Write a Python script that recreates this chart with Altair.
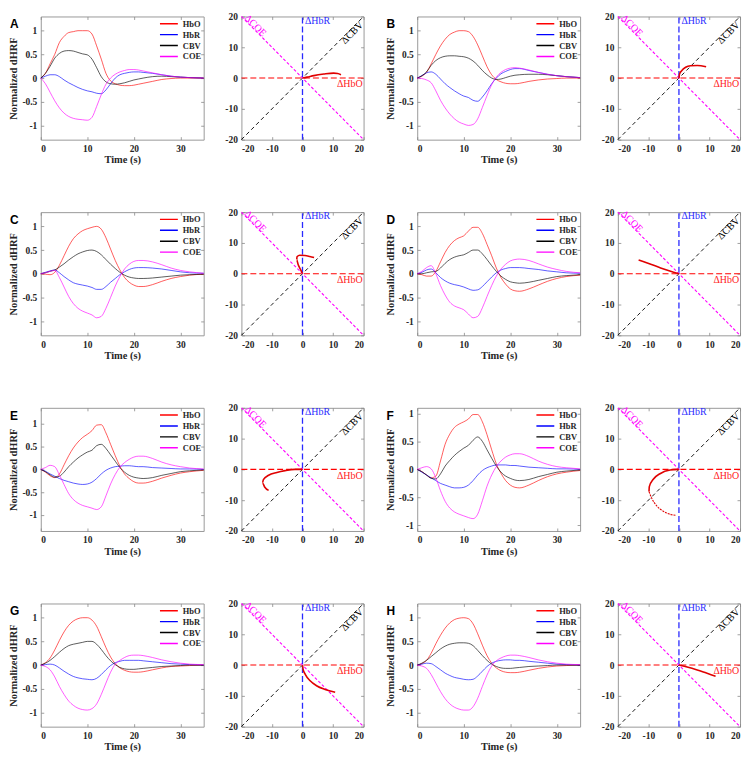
import altair as alt
import pandas as pd

SERIF = "Liberation Serif"
SANS = "Liberation Sans"
TXT = "#262626"

SERIES = ["HbO", "HbR", "CBV", "COE"]
SERIES_COLORS = ["#ff0000", "#0000ff", "#000000", "#ff00ff"]

T = [0, 1, 2, 3, 4, 5, 6, 7, 8, 9, 10, 11, 12, 13, 14, 15, 16, 17, 18, 19, 20, 21, 22, 24, 26, 28, 30, 32, 35]

# ---------------- Panel A ----------------
A_HBO = [0, 0.1, 0.3, 0.5, 0.75, 0.88, 0.96, 0.98, 1.0, 1.0, 1.0, 0.93, 0.68, 0.4, 0.1, -0.06, -0.12, -0.15, -0.16, -0.16, -0.15, -0.13, -0.11, -0.07, -0.03, -0.01, 0, 0, 0]
A_HBR = [0, 0.04, 0.07, 0.07, 0.03, -0.04, -0.1, -0.15, -0.2, -0.24, -0.27, -0.29, -0.32, -0.33, -0.25, -0.12, 0.0, 0.07, 0.1, 0.12, 0.13, 0.13, 0.12, 0.1, 0.07, 0.04, 0.02, 0.01, 0]
A_CBV = [0, 0.1, 0.25, 0.42, 0.52, 0.57, 0.58, 0.57, 0.54, 0.51, 0.49, 0.4, 0.22, 0.03, -0.08, -0.12, -0.13, -0.12, -0.1, -0.07, -0.04, -0.02, 0.0, 0.03, 0.04, 0.03, 0.02, 0.01, 0]
A_COE = [0, -0.12, -0.3, -0.48, -0.63, -0.74, -0.81, -0.85, -0.87, -0.88, -0.89, -0.83, -0.6, -0.35, -0.13, 0.0, 0.08, 0.13, 0.16, 0.18, 0.18, 0.17, 0.15, 0.11, 0.07, 0.04, 0.02, 0.01, 0]
# ---------------- Panel B ----------------
B_HBO = [0, 0.04, 0.12, 0.3, 0.5, 0.68, 0.82, 0.92, 0.97, 1.0, 1.0, 0.98, 0.88, 0.7, 0.47, 0.24, 0.07, -0.03, -0.08, -0.11, -0.12, -0.12, -0.11, -0.07, -0.04, -0.02, -0.01, 0, 0]
B_HBR = [0, 0.05, 0.11, 0.13, 0.08, -0.02, -0.12, -0.2, -0.27, -0.33, -0.38, -0.41, -0.47, -0.49, -0.4, -0.27, -0.12, 0.0, 0.09, 0.14, 0.18, 0.2, 0.2, 0.16, 0.12, 0.08, 0.05, 0.03, 0.01]
B_CBV = [0, 0.05, 0.13, 0.27, 0.37, 0.43, 0.46, 0.47, 0.47, 0.46, 0.45, 0.42, 0.36, 0.27, 0.16, 0.07, 0.0, -0.03, -0.02, 0.01, 0.04, 0.06, 0.07, 0.08, 0.08, 0.07, 0.05, 0.03, 0.01]
B_COE = [0, -0.01, -0.04, -0.1, -0.27, -0.47, -0.63, -0.76, -0.86, -0.93, -0.97, -1.0, -0.98, -0.86, -0.62, -0.37, -0.14, 0.02, 0.12, 0.18, 0.21, 0.22, 0.21, 0.17, 0.12, 0.08, 0.05, 0.03, 0.01]
# ---------------- Panel C ----------------
C_HBO = [0, -0.01, -0.02, 0.03, 0.18, 0.38, 0.58, 0.74, 0.84, 0.91, 0.95, 0.98, 1.0, 0.94, 0.76, 0.52, 0.28, 0.08, -0.08, -0.18, -0.24, -0.27, -0.27, -0.23, -0.16, -0.1, -0.06, -0.03, -0.01]
C_HBR = [0, 0.03, 0.06, 0.08, 0.02, -0.06, -0.13, -0.19, -0.22, -0.24, -0.26, -0.29, -0.33, -0.33, -0.27, -0.18, -0.1, -0.02, 0.04, 0.09, 0.12, 0.13, 0.13, 0.12, 0.1, 0.07, 0.04, 0.02, 0.01]
C_CBV = [0, 0.02, 0.05, 0.08, 0.14, 0.21, 0.29, 0.36, 0.42, 0.46, 0.49, 0.5, 0.47, 0.4, 0.3, 0.2, 0.11, 0.03, -0.03, -0.07, -0.09, -0.1, -0.1, -0.09, -0.07, -0.05, -0.03, -0.02, -0.01]
C_COE = [0, 0.02, 0.05, 0.07, -0.08, -0.28, -0.48, -0.63, -0.73, -0.79, -0.83, -0.87, -0.93, -0.9, -0.73, -0.5, -0.26, -0.06, 0.1, 0.2, 0.26, 0.28, 0.28, 0.25, 0.19, 0.12, 0.07, 0.04, 0.01]
# ---------------- Panel D ----------------
D_HBO = [0, -0.02, -0.05, -0.05, 0.05, 0.25, 0.45, 0.6, 0.7, 0.76, 0.8, 0.9, 0.98, 0.98, 0.85, 0.62, 0.38, 0.12, -0.08, -0.22, -0.32, -0.36, -0.37, -0.32, -0.24, -0.16, -0.1, -0.06, -0.03]
D_HBR = [0, 0.03, 0.08, 0.1, 0.02, -0.08, -0.15, -0.2, -0.23, -0.25, -0.28, -0.32, -0.35, -0.34, -0.27, -0.17, -0.07, 0.02, 0.08, 0.11, 0.13, 0.13, 0.13, 0.11, 0.09, 0.06, 0.04, 0.02, 0.01]
D_CBV = [0, 0.0, 0.02, 0.04, 0.05, 0.12, 0.22, 0.3, 0.35, 0.38, 0.4, 0.45, 0.5, 0.5, 0.42, 0.3, 0.17, 0.05, -0.05, -0.12, -0.17, -0.19, -0.2, -0.18, -0.14, -0.1, -0.06, -0.04, -0.02]
D_COE = [0, 0.05, 0.13, 0.17, 0.0, -0.25, -0.45, -0.6, -0.68, -0.72, -0.76, -0.85, -0.93, -0.9, -0.72, -0.48, -0.25, -0.05, 0.1, 0.2, 0.27, 0.3, 0.31, 0.28, 0.21, 0.14, 0.09, 0.05, 0.02]
# ---------------- Panel E ----------------
E_HBO = [0, -0.06, -0.14, -0.18, -0.1, 0.1, 0.3, 0.47, 0.6, 0.7, 0.77, 0.85, 0.97, 0.98, 0.8, 0.55, 0.3, 0.07, -0.1, -0.2, -0.27, -0.3, -0.3, -0.26, -0.19, -0.13, -0.08, -0.05, -0.02]
E_HBR = [0, -0.04, -0.1, -0.15, -0.2, -0.24, -0.27, -0.3, -0.32, -0.33, -0.32, -0.28, -0.2, -0.1, -0.02, 0.03, 0.06, 0.07, 0.08, 0.08, 0.07, 0.06, 0.06, 0.04, 0.03, 0.02, 0.01, 0.01, 0]
E_CBV = [0, -0.05, -0.12, -0.17, -0.15, -0.06, 0.06, 0.16, 0.25, 0.32, 0.38, 0.42, 0.52, 0.55, 0.46, 0.32, 0.18, 0.04, -0.06, -0.13, -0.17, -0.19, -0.2, -0.18, -0.13, -0.09, -0.05, -0.03, -0.01]
E_COE = [0, 0.04, 0.09, 0.06, -0.12, -0.33, -0.53, -0.66, -0.74, -0.79, -0.82, -0.85, -0.88, -0.82, -0.58, -0.32, -0.11, 0.05, 0.15, 0.22, 0.27, 0.29, 0.29, 0.24, 0.16, 0.1, 0.06, 0.03, 0.01]
# ---------------- Panel F ----------------
F_HBO = [0, -0.04, -0.1, -0.15, -0.12, 0.15, 0.45, 0.63, 0.75, 0.81, 0.85, 0.9, 0.98, 0.98, 0.85, 0.62, 0.35, 0.1, -0.07, -0.2, -0.28, -0.32, -0.33, -0.28, -0.2, -0.13, -0.08, -0.05, -0.02]
F_HBR = [0, -0.05, -0.1, -0.15, -0.2, -0.25, -0.28, -0.31, -0.33, -0.33, -0.32, -0.28, -0.2, -0.1, -0.02, 0.03, 0.06, 0.08, 0.08, 0.08, 0.07, 0.07, 0.06, 0.04, 0.03, 0.02, 0.01, 0.01, 0]
F_CBV = [0, -0.04, -0.1, -0.16, -0.17, -0.08, 0.06, 0.16, 0.25, 0.32, 0.38, 0.43, 0.52, 0.58, 0.5, 0.35, 0.2, 0.06, -0.05, -0.12, -0.16, -0.19, -0.2, -0.18, -0.13, -0.09, -0.05, -0.03, -0.01]
F_COE = [0, 0.03, 0.05, 0.01, -0.15, -0.38, -0.57, -0.69, -0.76, -0.8, -0.83, -0.86, -0.88, -0.8, -0.56, -0.3, -0.1, 0.05, 0.15, 0.22, 0.26, 0.28, 0.28, 0.23, 0.15, 0.09, 0.05, 0.03, 0.01]
# ---------------- Panel G ----------------
G_HBO = [0, 0.05, 0.15, 0.32, 0.52, 0.7, 0.84, 0.93, 0.98, 1.0, 1.0, 0.95, 0.82, 0.6, 0.37, 0.17, 0.03, -0.06, -0.11, -0.14, -0.15, -0.15, -0.14, -0.1, -0.06, -0.03, -0.02, -0.01, 0]
G_HBR = [0, 0.01, 0.02, 0.0, -0.06, -0.13, -0.19, -0.24, -0.27, -0.29, -0.3, -0.31, -0.28, -0.2, -0.1, -0.01, 0.05, 0.08, 0.1, 0.1, 0.1, 0.1, 0.09, 0.07, 0.05, 0.03, 0.02, 0.01, 0]
G_CBV = [0, 0.04, 0.1, 0.18, 0.27, 0.35, 0.41, 0.44, 0.46, 0.48, 0.5, 0.5, 0.44, 0.33, 0.2, 0.09, 0.01, -0.05, -0.08, -0.09, -0.09, -0.08, -0.07, -0.05, -0.03, -0.02, -0.01, 0, 0]
G_COE = [0, -0.03, -0.1, -0.25, -0.45, -0.62, -0.76, -0.85, -0.91, -0.94, -0.95, -0.92, -0.82, -0.62, -0.38, -0.15, 0.02, 0.1, 0.16, 0.2, 0.21, 0.21, 0.2, 0.16, 0.11, 0.07, 0.04, 0.02, 0.01]
# ---------------- Panel H ----------------
H_HBO = [0, 0.03, 0.1, 0.25, 0.45, 0.63, 0.78, 0.89, 0.96, 0.99, 1.0, 0.98, 0.87, 0.66, 0.42, 0.2, 0.04, -0.06, -0.12, -0.15, -0.16, -0.16, -0.15, -0.11, -0.07, -0.04, -0.02, -0.01, 0]
H_HBR = [0, 0.02, 0.04, 0.03, -0.03, -0.1, -0.17, -0.22, -0.26, -0.28, -0.3, -0.31, -0.3, -0.23, -0.13, -0.03, 0.04, 0.08, 0.1, 0.11, 0.11, 0.1, 0.1, 0.08, 0.06, 0.04, 0.02, 0.01, 0]
H_CBV = [0, 0.04, 0.1, 0.18, 0.26, 0.34, 0.4, 0.44, 0.46, 0.47, 0.47, 0.46, 0.41, 0.31, 0.2, 0.1, 0.02, -0.03, -0.06, -0.07, -0.07, -0.06, -0.05, -0.03, -0.02, -0.01, 0, 0, 0]
H_COE = [0, -0.02, -0.07, -0.2, -0.38, -0.56, -0.71, -0.82, -0.89, -0.93, -0.95, -0.95, -0.88, -0.7, -0.45, -0.21, -0.02, 0.09, 0.15, 0.19, 0.21, 0.21, 0.2, 0.16, 0.11, 0.07, 0.04, 0.02, 0.01]

# y-axis extents of the time-course panels
YDOM = {"A": [-1.3, 1.3], "B": [-1.3, 1.3], "C": [-1.3, 1.3], "D": [-1.3, 1.3],
        "E": [-1.35, 1.35], "F": [-1.1, 1.1], "G": [-1.3, 1.3], "H": [-1.3, 1.3]}

# ---------------- phase-plane trajectories (dHbO, dHbR) ----------------
A_TX = [0, 1.5, 3.7, 7.0, 10.2, 11.5, 12.6]
A_TY = [0, 0.3, 0.8, 1.3, 1.6, 1.5, 1.1]
B_TX = [0, 0.2, 0.9, 2.2, 3.8, 6.0, 8.9]
B_TY = [0, 1.3, 2.4, 3.5, 4.0, 4.1, 3.7]
C_TX = [0, -0.5, -1.4, -1.9, -1.8, -0.9, 0.8, 2.4, 3.8]
C_TY = [0, 1.1, 2.9, 4.5, 5.5, 6.0, 5.9, 5.6, 5.3]
D_TX = [0, -3.0, -6.0, -9.0, -11.5, -13.2]
D_TY = [0, 0.9, 1.9, 3.0, 3.9, 4.5]
E_TX = [0, -2.5, -5.7, -8.4, -11.1, -12.8, -13.1, -12.4, -11.1]
E_TY = [0, 0.0, -0.4, -1.0, -1.9, -3.3, -4.4, -5.7, -6.8]
F_TX = [0, -2.9, -6.2, -8.4, -9.7, -9.8]
F_TY = [0, -0.2, -1.4, -3.2, -5.6, -7.2]
F_TX2 = [-9.8, -8.9, -7.3, -5.1, -2.4, -1.0]
F_TY2 = [-7.2, -9.4, -11.8, -13.6, -14.7, -14.9]
G_TX = [0, 0.2, 0.9, 2.5, 4.6, 7.4, 10.7]
G_TY = [0, -1.4, -3.0, -5.1, -6.7, -7.9, -8.8]
H_TX = [0, 3.0, 6.0, 9.0, 12.0]
H_TY = [0, -0.7, -1.6, -2.6, -3.6]

TIME_XTICKS = [0, 10, 20, 30]
TIME_YTICKS = [-1, -0.5, 0, 0.5, 1]
PHASE_TICKS = [-20, -10, 0, 10, 20]

GUIDE_NAME = ["HbO", "HbR", "CBV", "COE"]
GUIDE_X1 = [-20, 0, -20, -20]
GUIDE_Y1 = [0, -20, -20, 20]
GUIDE_X2 = [20, 0, 20, 20]
GUIDE_Y2 = [0, 20, 20, -20]

LABEL_TEXT = ["ΔHbO", "ΔHbR", "ΔCBV", "ΔCOE"]
LABEL_X = [19.7, 0.8, 16.3, -15.4]
LABEL_Y = [-0.4, 18.6, 14.7, 17.0]

TW, TH = 164, 124
PW, PH = 123, 124


def axis(**kw):
    base = dict(labelFont=SERIF, labelFontWeight="bold", labelFontSize=9.5, labelColor=TXT,
                titleFont=SERIF, titleFontWeight="bold", titleFontSize=10.5, titleColor=TXT,
                domain=False, grid=False, tickColor="#888888", tickSize=3, tickWidth=0.8,
                offset=-3, labelPadding=4, labelExpr="datum.value")
    base.update(kw)
    return alt.Axis(**base)


def mirror_axis(orient, values):
    # tick marks only, on the opposite edge (inside the box)
    return alt.Axis(orient=orient, values=values, labels=False, title=None, domain=False, grid=False,
                    tickColor="#888888", tickSize=3, tickWidth=0.8, offset=-3)


def time_chart(letter, hbo, hbr, cbv, coe):
    rows = []
    for name, vals in zip(SERIES, [hbo, hbr, cbv, coe]):
        for t, v in zip(T, vals):
            rows.append({"t": t, "v": v, "s": name})
    df = pd.DataFrame(rows)
    xs = alt.Scale(domain=[0, 35], nice=False, zero=False)
    ys = alt.Scale(domain=YDOM[letter], nice=False, zero=False)
    lines = alt.Chart(df).mark_line(strokeWidth=0.8, strokeOpacity=0.8, interpolate="monotone").encode(
        x=alt.X("t:Q", scale=xs, axis=axis(values=TIME_XTICKS, title="Time (s)", titlePadding=2)),
        y=alt.Y("v:Q", scale=ys, axis=axis(values=TIME_YTICKS, title="Normalized dHRF", titlePadding=3)),
        color=alt.Color("s:N", scale=alt.Scale(domain=SERIES, range=SERIES_COLORS),
                        legend=alt.Legend(title=None, orient="none", legendX=119, legendY=3,
                                          symbolType="stroke", symbolSize=324, symbolStrokeWidth=1.4,
                                          labelFont=SERIF, labelFontWeight="bold", labelFontSize=8.5,
                                          labelColor=TXT, clipHeight=8.5, rowPadding=2, padding=0,
                                          labelOffset=4)),
    )
    mirror = alt.Chart(df).mark_point(opacity=0, size=1).encode(
        x=alt.X("t:Q", scale=xs, axis=mirror_axis("top", TIME_XTICKS)),
        y=alt.Y("v:Q", scale=ys, axis=mirror_axis("right", TIME_YTICKS)),
    )
    tag = alt.Chart(pd.DataFrame({"k": [letter]})).mark_text(
        font=SANS, fontWeight="bold", fontSize=12, align="left", baseline="top", color="black"
    ).encode(text="k:N", x=alt.value(-31), y=alt.value(3))
    return alt.layer(lines, mirror, tag).resolve_axis(x="independent", y="independent").properties(
        width=TW, height=TH)


def phase_chart(tx, ty, tx2=None, ty2=None):
    xs = alt.Scale(domain=[-20, 20], nice=False, zero=False)
    ys = alt.Scale(domain=[-20, 20], nice=False, zero=False)
    X_main = alt.X("x:Q", scale=xs, axis=axis(values=PHASE_TICKS, title=None))
    Y_main = alt.Y("y:Q", scale=ys, axis=axis(values=PHASE_TICKS, title=None))
    X = alt.X("x:Q", scale=xs, axis=None)
    Y = alt.Y("y:Q", scale=ys, axis=None)
    gdf = pd.DataFrame({"name": GUIDE_NAME, "x": GUIDE_X1, "y": GUIDE_Y1, "x2": GUIDE_X2, "y2": GUIDE_Y2})
    ldf = pd.DataFrame({"name": GUIDE_NAME, "label": LABEL_TEXT, "x": LABEL_X, "y": LABEL_Y})

    styles = {
        "HbO": dict(color="#ff0000", strokeDash=[6, 3], strokeWidth=1.1),
        "HbR": dict(color="#2a2aff", strokeDash=[6, 3], strokeWidth=1.3),
        "CBV": dict(color="#000000", strokeDash=[4, 3], strokeWidth=0.9),
        "COE": dict(color="#ff00ff", strokeDash=[3, 2], strokeWidth=1.1),
    }
    tstyles = {
        "HbO": dict(color="#ff2020", align="right", baseline="top", angle=0),
        "HbR": dict(color="#2a2aff", align="left", baseline="middle", angle=0),
        "CBV": dict(color="#000000", align="center", baseline="middle", angle=315),
        "COE": dict(color="#ff00ff", align="center", baseline="middle", angle=45),
    }
    layers = []
    for k, n in enumerate(GUIDE_NAME):
        layers.append(alt.Chart(gdf).transform_filter(alt.datum.name == n).mark_rule(**styles[n]).encode(
            x=X_main if k == 0 else X, y=Y_main if k == 0 else Y, x2="x2:Q", y2="y2:Q"))
    for n in GUIDE_NAME:
        layers.append(alt.Chart(ldf).transform_filter(alt.datum.name == n).mark_text(
            font=SERIF, fontSize=10, **tstyles[n]).encode(x=X, y=Y, text="label:N"))
    tdf = pd.DataFrame({"x": tx, "y": ty, "i": list(range(len(tx)))})
    layers.append(alt.Chart(tdf).mark_line(color="#e00000", strokeWidth=1.6, interpolate="monotone").encode(
        x=X, y=Y, order="i:Q"))
    if tx2 is not None:
        tdf2 = pd.DataFrame({"x": tx2, "y": ty2, "i": list(range(len(tx2)))})
        layers.append(alt.Chart(tdf2).mark_line(color="#e00000", strokeWidth=1.1, strokeDash=[2, 1],
                                                interpolate="monotone").encode(x=X, y=Y, order="i:Q"))
    layers.append(alt.Chart(gdf).mark_point(opacity=0, size=1).encode(
        x=alt.X("x:Q", scale=xs, axis=mirror_axis("top", PHASE_TICKS)),
        y=alt.Y("y:Q", scale=ys, axis=mirror_axis("right", PHASE_TICKS))))
    return alt.layer(*layers).resolve_axis(x="independent", y="independent").properties(width=PW, height=PH)


def indep(c):
    return c.resolve_scale(color="independent").resolve_legend(color="independent")


def pair(letter, hbo, hbr, cbv, coe, tx, ty, tx2=None, ty2=None):
    return indep(alt.hconcat(time_chart(letter, hbo, hbr, cbv, coe), phase_chart(tx, ty, tx2, ty2), spacing=17))


pA = pair("A", A_HBO, A_HBR, A_CBV, A_COE, A_TX, A_TY)
pB = pair("B", B_HBO, B_HBR, B_CBV, B_COE, B_TX, B_TY)
pC = pair("C", C_HBO, C_HBR, C_CBV, C_COE, C_TX, C_TY)
pD = pair("D", D_HBO, D_HBR, D_CBV, D_COE, D_TX, D_TY)
pE = pair("E", E_HBO, E_HBR, E_CBV, E_COE, E_TX, E_TY)
pF = pair("F", F_HBO, F_HBR, F_CBV, F_COE, F_TX, F_TY, F_TX2, F_TY2)
pG = pair("G", G_HBO, G_HBR, G_CBV, G_COE, G_TX, G_TY)
pH = pair("H", H_HBO, H_HBR, H_CBV, H_COE, H_TX, H_TY)

rows = [indep(alt.hconcat(a, b, spacing=18)) for a, b in [(pA, pB), (pC, pD), (pE, pF), (pG, pH)]]

chart = indep(alt.vconcat(*rows, spacing=40)).properties(padding=0).configure_view(
    stroke="#999999", strokeWidth=1
)

chart.save("out.html", embed_options={"renderer": "svg", "actions": False})
